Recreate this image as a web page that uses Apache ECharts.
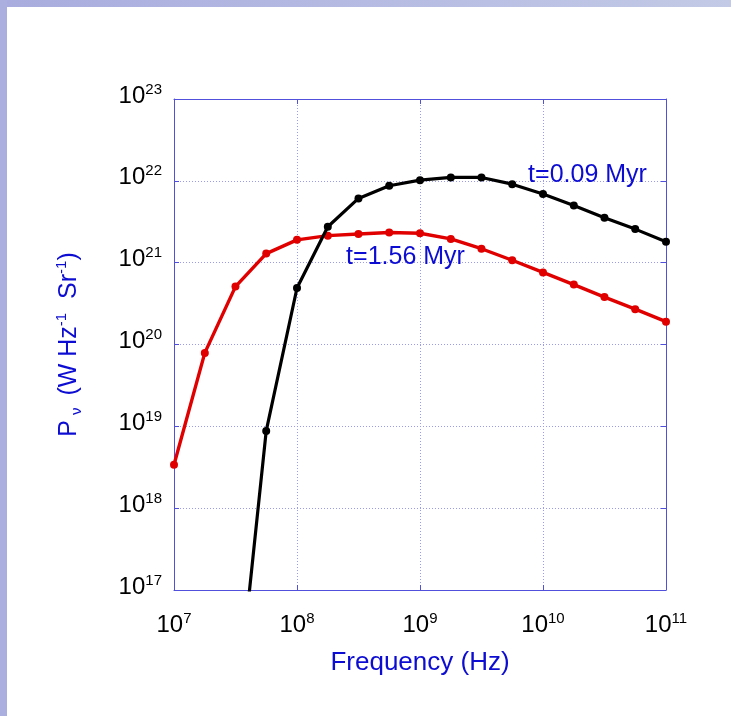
<!DOCTYPE html>
<html>
<head>
<meta charset="utf-8">
<script src="https://cdn.jsdelivr.net/npm/echarts@6/dist/echarts.min.js"></script>
<style>
  html, body { margin: 0; padding: 0; background: #fff; }
  #chart { width: 731px; height: 716px; }
</style>
</head>
<body>
<div id="chart"></div>
<script>
// Frequency samples (Hz), quarter-decade steps
const freqs = [1e7, 1.78e7, 3.16e7, 5.62e7, 1e8, 1.78e8, 3.16e8, 5.62e8, 1e9,
               1.78e9, 3.16e9, 5.62e9, 1e10, 1.78e10, 3.16e10, 5.62e10, 1e11];

// Spectral power at t = 1.56 Myr (W Hz^-1 Sr^-1), one value per frequency
const powerOld = [3.4e18, 7.9e19, 5.1e20, 1.29e21, 1.9e21, 2.14e21, 2.24e21, 2.34e21, 2.29e21,
                  1.95e21, 1.48e21, 1.07e21, 7.6e20, 5.4e20, 3.8e20, 2.7e20, 1.9e20];

// Spectral power at t = 0.09 Myr, starting from the third frequency (3.16e7 Hz)
const youngStart = 2;
const powerYoung = [2.3e15, 8.8e18, 4.9e20, 2.75e21, 6.1e21, 8.7e21, 1.02e22, 1.1e22, 1.1e22,
                    9.1e21, 6.9e21, 5.0e21, 3.55e21, 2.57e21, 1.8e21];

// Curve labels and the data-space points where they sit
const curveNames = ['t=0.09 Myr', 't=1.56 Myr'];
const curveNameAnchors = [[2.3e10, 1.19e22], [7.62e8, 1.16e21]];

const BLUE = '#0c0cd2';
const FRAME = '#5050dc';
const FONT = '"Liberation Sans", Arial, sans-serif';

function powLabel(v) {
  const e = Math.round(Math.log10(v));
  return '{b|10}{s|' + e + '}';
}

const labelRich = {
  b: { fontSize: 24, lineHeight: 28, color: '#000', fontFamily: FONT },
  s: { fontSize: 15, lineHeight: 15, verticalAlign: 'top', color: '#000', fontFamily: FONT }
};

const dottedGrid = { show: true, lineStyle: { color: '#9a9af0', width: 1, type: [1, 2] } };

const chart = echarts.init(document.getElementById('chart'), null, { renderer: 'canvas' });

chart.setOption({
  animation: false,
  backgroundColor: '#ffffff',
  textStyle: { fontFamily: FONT },
  graphic: [
    { type: 'rect', left: 0, top: 0, z: 100, silent: true,
      shape: { width: 731, height: 7 },
      style: { fill: new echarts.graphic.LinearGradient(0, 0, 1, 0, [
        { offset: 0, color: '#a8acde' }, { offset: 1, color: '#c2cae6' }]) } },
    { type: 'rect', left: 0, top: 0, z: 100, silent: true,
      shape: { width: 7, height: 716 },
      style: { fill: '#abafe0' } }
  ],
  grid: { left: 174, top: 99, width: 492, height: 491, containLabel: false },
  xAxis: [
    {
      type: 'log', logBase: 10, min: 1e7, max: 1e11, interval: 1,
      name: 'Frequency (Hz)', nameLocation: 'middle', nameGap: 60,
      nameTextStyle: { color: BLUE, fontSize: 26, fontFamily: FONT },
      axisLine: { show: true, lineStyle: { color: FRAME, width: 1 } },
      axisTick: { show: true, inside: true, length: 5, lineStyle: { color: FRAME } },
      minorTick: { show: false },
      splitLine: dottedGrid,
      axisLabel: { formatter: powLabel, rich: labelRich, margin: 21 }
    },
    {
      type: 'log', logBase: 10, min: 1e7, max: 1e11, interval: 1, position: 'top',
      axisLine: { show: true, lineStyle: { color: FRAME, width: 1 } },
      axisTick: { show: true, inside: true, length: 5, lineStyle: { color: FRAME } },
      splitLine: { show: false },
      axisLabel: { show: false }
    }
  ],
  yAxis: [
    {
      type: 'log', logBase: 10, min: 1e17, max: 1e23, interval: 1,
      name: '{a|P}{sub|ν}{a| (W Hz}{sup|-1}{a|  Sr}{sup|-1}{a|)}',
      nameLocation: 'middle', nameRotate: 90, nameGap: 90,
      nameTextStyle: {
        color: BLUE,
        rich: {
          a: { fontSize: 25, lineHeight: 30, color: BLUE, fontFamily: FONT },
          sub: { fontSize: 15, lineHeight: 15, verticalAlign: 'bottom', color: BLUE, fontFamily: FONT, padding: [0, 5, 0, 5] },
          sup: { fontSize: 15, lineHeight: 15, verticalAlign: 'top', color: BLUE, fontFamily: FONT }
        }
      },
      axisLine: { show: true, lineStyle: { color: FRAME, width: 1 } },
      axisTick: { show: true, inside: true, length: 5, lineStyle: { color: FRAME } },
      splitLine: dottedGrid,
      axisLabel: { formatter: powLabel, rich: labelRich, margin: 12, padding: [0, 0, 6, 0] }
    },
    {
      type: 'log', logBase: 10, min: 1e17, max: 1e23, interval: 1, position: 'right',
      axisLine: { show: true, lineStyle: { color: FRAME, width: 1 } },
      axisTick: { show: true, inside: true, length: 5, lineStyle: { color: FRAME } },
      splitLine: { show: false },
      axisLabel: { show: false }
    }
  ],
  series: [
    {
      name: curveNames[1], type: 'line', clip: true,
      data: freqs.map((f, i) => [f, powerOld[i]]),
      symbol: 'circle', symbolSize: 8,
      lineStyle: { color: '#e00000', width: 3.4 },
      itemStyle: { color: '#e00000' },
      markPoint: {
        symbol: 'circle', symbolSize: 0,
        label: { show: true, position: 'inside', formatter: curveNames[1], color: BLUE, fontSize: 25, fontFamily: FONT },
        data: [{ coord: curveNameAnchors[1] }]
      },
      z: 2
    },
    {
      name: curveNames[0], type: 'line', clip: true,
      data: powerYoung.map((p, i) => [freqs[i + youngStart], p]),
      symbol: 'circle', symbolSize: 8,
      lineStyle: { color: '#000000', width: 3.2 },
      itemStyle: { color: '#000000' },
      markPoint: {
        symbol: 'circle', symbolSize: 0,
        label: { show: true, position: 'inside', formatter: curveNames[0], color: BLUE, fontSize: 25, fontFamily: FONT },
        data: [{ coord: curveNameAnchors[0] }]
      },
      z: 3
    }
  ]
});
</script>
</body>
</html>
